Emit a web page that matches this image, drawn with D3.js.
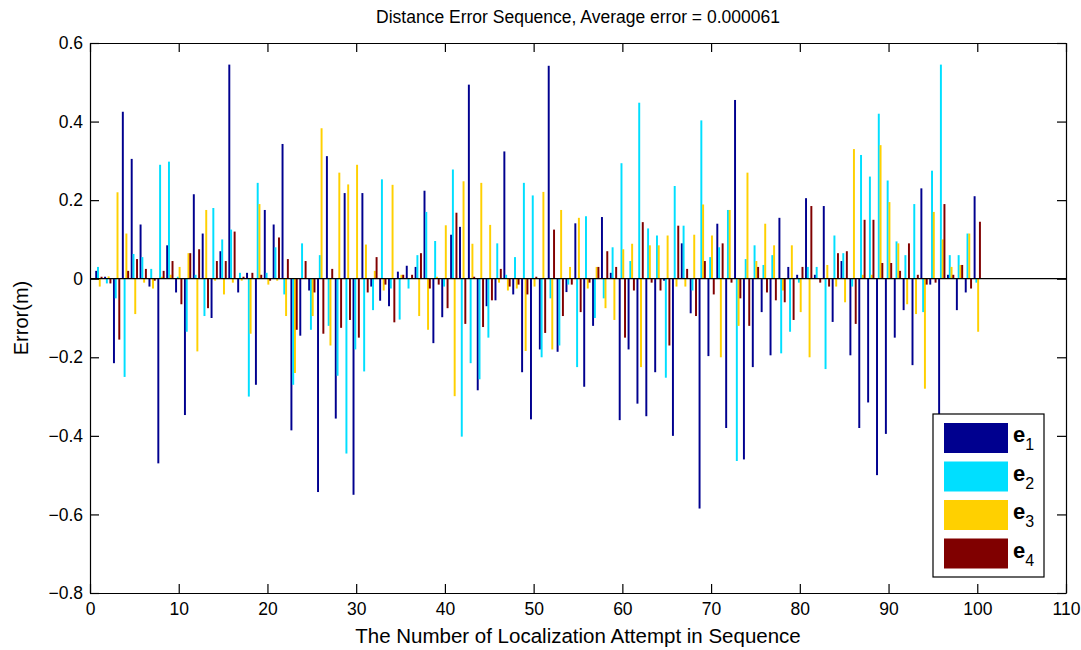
<!DOCTYPE html>
<html><head><meta charset="utf-8">
<script src="https://cdn.jsdelivr.net/npm/d3@7"></script>
<style>
html,body{margin:0;padding:0;background:#fff;}
svg{display:block;font-family:"Liberation Sans",Arial,sans-serif;}
</style></head>
<body><svg id="c" width="1081" height="650"></svg>
<script>
const seriesNames = ["1","2","3","4"];
const seriesColors = ["#00008f","#00dfff","#ffd000","#800000"];
const e1 = [
0.02,0.005,-0.215,0.425,0.305,0.138,-0.02,-0.47,0.085,-0.035,
-0.347,0.215,0.115,-0.1,0.07,0.545,-0.035,0.015,-0.27,0.175,
0.138,0.343,-0.386,-0.145,-0.03,-0.543,0.312,-0.356,0.218,-0.55,
0.218,-0.02,-0.056,-0.07,0.018,0.033,0.03,0.224,-0.164,-0.098,
0.112,0.132,0.494,-0.284,-0.07,-0.055,0.324,-0.04,-0.238,-0.358,
-0.18,0.542,-0.186,-0.034,0.141,-0.275,-0.12,0.157,0.015,-0.36,
-0.18,-0.318,-0.35,-0.238,-0.005,-0.4,0.09,-0.088,-0.585,-0.197,
0.14,-0.38,0.455,-0.46,-0.225,-0.085,-0.195,0.155,0.03,0.01,
0.205,0.01,0.185,-0.11,0.045,-0.195,-0.38,-0.315,-0.5,-0.395,
-0.15,-0.08,-0.22,0.23,-0.015,-0.375,0.01,-0.08,-0.035,0.21];
const e2 = [
0.03,-0.012,-0.05,-0.25,0.063,0.055,0.025,0.29,0.298,0.005,
-0.135,0.01,-0.095,0.18,0.1,0.125,0.015,-0.3,0.244,0.015,
0.08,-0.04,-0.27,0.09,-0.13,0.06,-0.12,-0.247,-0.445,-0.18,
-0.236,-0.08,0.253,-0.025,-0.104,-0.025,0.06,0.17,0.096,-0.02,
0.278,-0.402,-0.215,-0.256,-0.15,0.09,0.01,0.055,0.244,0.212,
-0.2,-0.05,-0.17,-0.015,-0.225,0.159,-0.1,-0.05,0.08,0.294,
0.045,0.448,0.128,0.11,-0.252,0.236,0.135,-0.03,0.403,0.055,
0.08,0.175,-0.464,0.05,0.085,0.035,0.06,-0.19,-0.135,-0.01,
0.03,0.03,-0.23,0.11,0.065,-0.02,0.315,0.26,0.42,0.25,
0.095,0.06,0.19,-0.085,0.275,0.545,0.06,0.06,0.115,-0.01];
const e3 = [
-0.02,0.006,0.22,0.115,-0.09,-0.01,-0.025,0.005,0.01,0.03,
0.065,-0.185,0.175,-0.005,-0.04,-0.01,-0.005,-0.14,0.19,-0.015,
-0.005,-0.095,-0.24,0.0,-0.095,0.383,-0.17,0.27,0.24,0.29,
0.087,0.02,-0.03,0.239,0.01,0.0,-0.095,-0.13,0.005,0.136,
-0.299,0.248,0.089,0.244,0.137,-0.01,-0.03,-0.025,-0.184,-0.02,
0.221,-0.18,0.175,0.03,0.155,-0.025,0.03,-0.075,-0.105,0.075,
0.089,-0.225,0.085,0.085,0.11,-0.02,-0.02,0.112,0.189,0.11,
-0.2,0.175,-0.12,0.27,0.045,0.14,0.085,-0.03,0.085,-0.085,
-0.2,0.0,0.035,-0.02,-0.06,0.33,0.01,0.01,0.34,0.195,
0.09,-0.065,-0.09,-0.28,0.17,0.1,0.03,0.035,0.115,-0.135];
const e4 = [
0.005,-0.012,-0.155,0.02,0.05,0.025,-0.005,0.02,0.045,-0.065,
0.065,0.075,-0.075,0.045,0.045,0.12,0.005,0.015,0.01,-0.005,
0.105,0.05,-0.13,0.045,-0.035,-0.14,0.025,-0.125,-0.105,-0.15,
-0.035,0.055,-0.015,-0.111,0.01,0.01,0.065,-0.025,-0.015,-0.075,
0.168,-0.115,0.005,-0.123,-0.055,0.025,-0.02,-0.015,-0.04,0.005,
-0.138,0.125,-0.095,-0.015,-0.085,-0.01,0.03,0.07,0.03,-0.15,
-0.03,0.144,-0.01,-0.03,-0.17,0.135,0.025,-0.095,0.045,-0.04,
0.09,-0.01,-0.05,-0.12,0.03,-0.035,-0.055,-0.06,-0.105,0.03,
0.185,-0.01,-0.02,0.065,0.07,-0.115,0.15,0.15,0.04,0.04,
0.02,0.09,0.01,-0.015,-0.01,0.19,0.01,0.035,-0.025,0.145];
const xTicks = [0,10,20,30,40,50,60,70,80,90,100,110];
const yTicks = [-0.8,-0.6,-0.4,-0.2,0,0.2,0.4,0.6];
const titleText = "Distance Error Sequence, Average error = 0.000061";
const xLabel = "The Number of Localization Attempt in Sequence";
const yLabel = "Error(m)";

const series = [e1,e2,e3,e4];
const L=90,R=1066,T=43,B=593;
const svg = d3.select("#c");
const x = d3.scaleLinear().domain([0,110]).range([L,R]);
const y = d3.scaleLinear().domain([-0.8,0.6]).range([B,T]);

// bars
const barW = 0.22;
const offsets = [-0.3,-0.1,0.1,0.3];
series.forEach((s,si)=>{
  svg.append("g").selectAll("rect").data(s).join("rect")
    .attr("x",(v,i)=>x(i+1+offsets[si]-barW/2))
    .attr("width",x(barW)-x(0))
    .attr("y",v=>y(Math.max(0,v)))
    .attr("height",v=>Math.abs(y(v)-y(0)))
    .attr("fill",seriesColors[si]);
});
// baseline
svg.append("line").attr("x1",L).attr("x2",R).attr("y1",y(0)).attr("y2",y(0))
  .attr("stroke","#000").attr("stroke-width",1.3);

const fmt = v => (v<0?"\u2212":"")+ (Math.abs(v)===0?"0":d3.format("")(Math.abs(v)));
const tl = 9;
const gB = svg.append("g").attr("transform",`translate(0,${B})`)
  .call(d3.axisBottom(x).tickValues(xTicks).tickSizeInner(-tl).tickSizeOuter(0).tickPadding(7).tickFormat(d3.format("d")));
const gT = svg.append("g").attr("transform",`translate(0,${T})`)
  .call(d3.axisTop(x).tickValues(xTicks).tickSizeInner(-tl).tickSizeOuter(0).tickFormat(""));
const gL = svg.append("g").attr("transform",`translate(${L},0)`)
  .call(d3.axisLeft(y).tickValues(yTicks).tickSizeInner(-tl).tickSizeOuter(0).tickPadding(7).tickFormat(fmt));
const gR = svg.append("g").attr("transform",`translate(${R},0)`)
  .call(d3.axisRight(y).tickValues(yTicks).tickSizeInner(-tl).tickSizeOuter(0).tickFormat(""));
[gB,gT,gL,gR].forEach(g=>{
  g.selectAll("path.domain").attr("stroke","#000").attr("stroke-width",1.2);
  g.selectAll(".tick line").attr("stroke","#000").attr("stroke-width",1.2);
  g.selectAll(".tick text").attr("fill","#000").style("font-size","17.5px").style("font-family","'Liberation Sans',Arial,sans-serif");
});
gB.selectAll(".tick text").attr("dy","0.85em");

// titles
svg.append("text").attr("x",(L+R)/2).attr("y",23).attr("text-anchor","middle")
  .style("font-size","17.5px").text(titleText);
svg.append("text").attr("x",(L+R)/2).attr("y",643).attr("text-anchor","middle")
  .style("font-size","20.5px").text(xLabel);
svg.append("text").attr("transform",`translate(28,${(T+B)/2}) rotate(-90)`).attr("text-anchor","middle")
  .style("font-size","20px").text(yLabel);

// legend
const lg = svg.append("g");
lg.append("rect").attr("x",933).attr("y",414).attr("width",111).attr("height",163)
  .attr("fill","#fff").attr("stroke","#000").attr("stroke-width",1.2);
seriesNames.forEach((n,i)=>{
  const yy = 423 + i*38.5;
  lg.append("rect").attr("x",944).attr("y",yy).attr("width",64).attr("height",30).attr("fill",seriesColors[i]);
  const t = lg.append("text").attr("x",1013).attr("y",yy+19).style("font-size","22px").style("font-weight","bold");
  t.append("tspan").text("e");
  t.append("tspan").attr("dy",8).style("font-size","16px").style("font-weight","normal").text(n);
});
</script></body></html>
